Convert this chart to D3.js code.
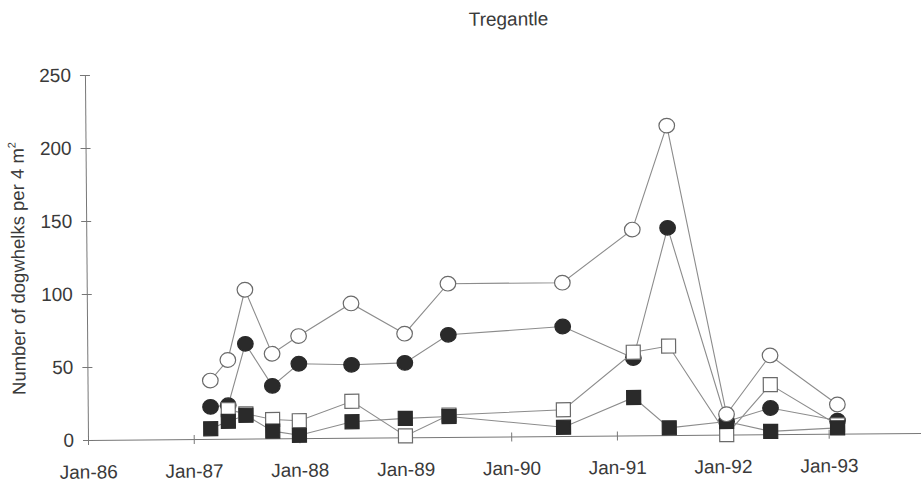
<!DOCTYPE html>
<html>
<head>
<meta charset="utf-8">
<script src="https://cdn.jsdelivr.net/npm/d3@7"></script>
<style>
  body { margin: 0; background: #fff; }
  svg text { font-family: "Liberation Sans", Arial, sans-serif; fill: #3a3a3a; }
</style>
</head>
<body>
<svg id="chart" width="921" height="484"></svg>
<script>
// Sampling dates at Tregantle and dogwhelk counts per 4 m² for four groups
const sampleDates = ["1987-03-01","1987-05-01","1987-07-01","1987-10-01","1988-01-01","1988-07-01",
  "1989-01-01","1989-06-01","1990-07-01","1991-03-01","1991-07-01","1992-01-15","1992-06-15","1993-02-01"];
const openCircleCounts   = [40, 54, 102, 58, 70, 92, 71, 105, 105, 141, 212, 14, 54, 20];
const filledCircleCounts = [22, 23,  65, 36, 51, 50, 51,  70,  75,  53, 142,  9, 18,  9];
const openSquareCounts   = [null, 20, 17, 13, 12, 25, 1, 15, 18, 57, 61, 0, 34, 6];
const filledSquareCounts = [7, 12, 16, 5, 2, 11, 13, 14, 6, 26, 5, 9, 2, 4];
const yTickValues = [0, 50, 100, 150, 200, 250];
const xTickLabels = ["Jan-86","Jan-87","Jan-88","Jan-89","Jan-90","Jan-91","Jan-92","Jan-93"];

const parse = d3.timeParse("%Y-%m-%d");
const dates = sampleDates.map(parse);
const xTickDates = xTickLabels.map(d3.timeParse("%b-%y"));

const svg = d3.select("#chart");
const plotLeft = 88, plotBottom = 440, plotTop = 75;
const yearPx = 105.8;

const x = d3.scaleTime()
  .domain([new Date(1986, 0, 1), new Date(1994, 0, 1)])
  .range([plotLeft, plotLeft + 8 * yearPx]);
const y = d3.scaleLinear().domain([0, 250]).range([plotBottom, plotTop]);

// whole figure sits very slightly tilted
const root = svg.append("g").attr("transform", `rotate(-0.48, ${plotLeft}, ${plotBottom})`);

root.append("text")
  .attr("x", 512).attr("y", 29)
  .attr("text-anchor", "middle")
  .style("font-size", "19px")
  .text("Tregantle");

// y axis
const yAxis = root.append("g").attr("transform", `translate(${plotLeft},0)`)
  .call(d3.axisLeft(y).tickValues(yTickValues).tickSize(5).tickSizeOuter(0).tickPadding(9));
yAxis.select(".domain").attr("stroke", "#777");
yAxis.selectAll(".tick line").attr("x1", 5).attr("x2", -5).attr("stroke", "#777");
yAxis.selectAll(".tick text").style("font-size", "19px").attr("fill", "#3a3a3a");

// x axis
const xAxis = root.append("g").attr("transform", `translate(0,${plotBottom})`)
  .call(d3.axisBottom(x).tickValues(xTickDates).tickFormat(d3.timeFormat("%b-%y"))
    .tickSize(5).tickSizeOuter(0).tickPadding(20));
xAxis.select(".domain").attr("stroke", "#777");
xAxis.selectAll(".tick line").attr("y1", -4).attr("y2", 5).attr("stroke", "#777");
xAxis.selectAll(".tick text").style("font-size", "19px").attr("fill", "#3a3a3a");

// y axis title
const yTitle = root.append("text")
  .attr("transform", `translate(26,268) rotate(-90)`)
  .attr("text-anchor", "middle")
  .style("font-size", "18.5px");
yTitle.append("tspan").text("Number of dogwhelks per 4 m");
yTitle.append("tspan").attr("dy", -8).style("font-size", "11px").text("2");

// drawing order decides which marker sits on top where they overlap
const series = [
  { values: filledCircleCounts, shape: "circle", fill: "#2a2a2a" },
  { values: openSquareCounts,   shape: "square", fill: "#ffffff" },
  { values: filledSquareCounts, shape: "square", fill: "#2a2a2a" },
  { values: openCircleCounts,   shape: "circle", fill: "#ffffff" }
];

const line = d3.line()
  .defined(d => d.v != null)
  .x(d => x(d.date))
  .y(d => y(d.v));

series.forEach(s => {
  const pts = dates.map((date, i) => ({ date, v: s.values[i] }));
  const g = root.append("g");
  g.append("path")
    .datum(pts)
    .attr("fill", "none")
    .attr("stroke", "#8c8c8c")
    .attr("stroke-width", 1.1)
    .attr("d", line);
  const valid = pts.filter(d => d.v != null);
  if (s.shape === "circle") {
    g.selectAll("ellipse").data(valid).join("ellipse")
      .attr("cx", d => x(d.date))
      .attr("cy", d => y(d.v))
      .attr("rx", 7.8).attr("ry", 7.3)
      .attr("fill", s.fill)
      .attr("stroke", s.fill === "#ffffff" ? "#6a6a6a" : "#2a2a2a")
      .attr("stroke-width", 1.2);
  } else {
    g.selectAll("rect").data(valid).join("rect")
      .attr("x", d => x(d.date) - 7)
      .attr("y", d => y(d.v) - 7)
      .attr("width", 14).attr("height", 14)
      .attr("fill", s.fill)
      .attr("stroke", s.fill === "#ffffff" ? "#6a6a6a" : "#2a2a2a")
      .attr("stroke-width", 1.2);
  }
});
</script>
</body>
</html>
